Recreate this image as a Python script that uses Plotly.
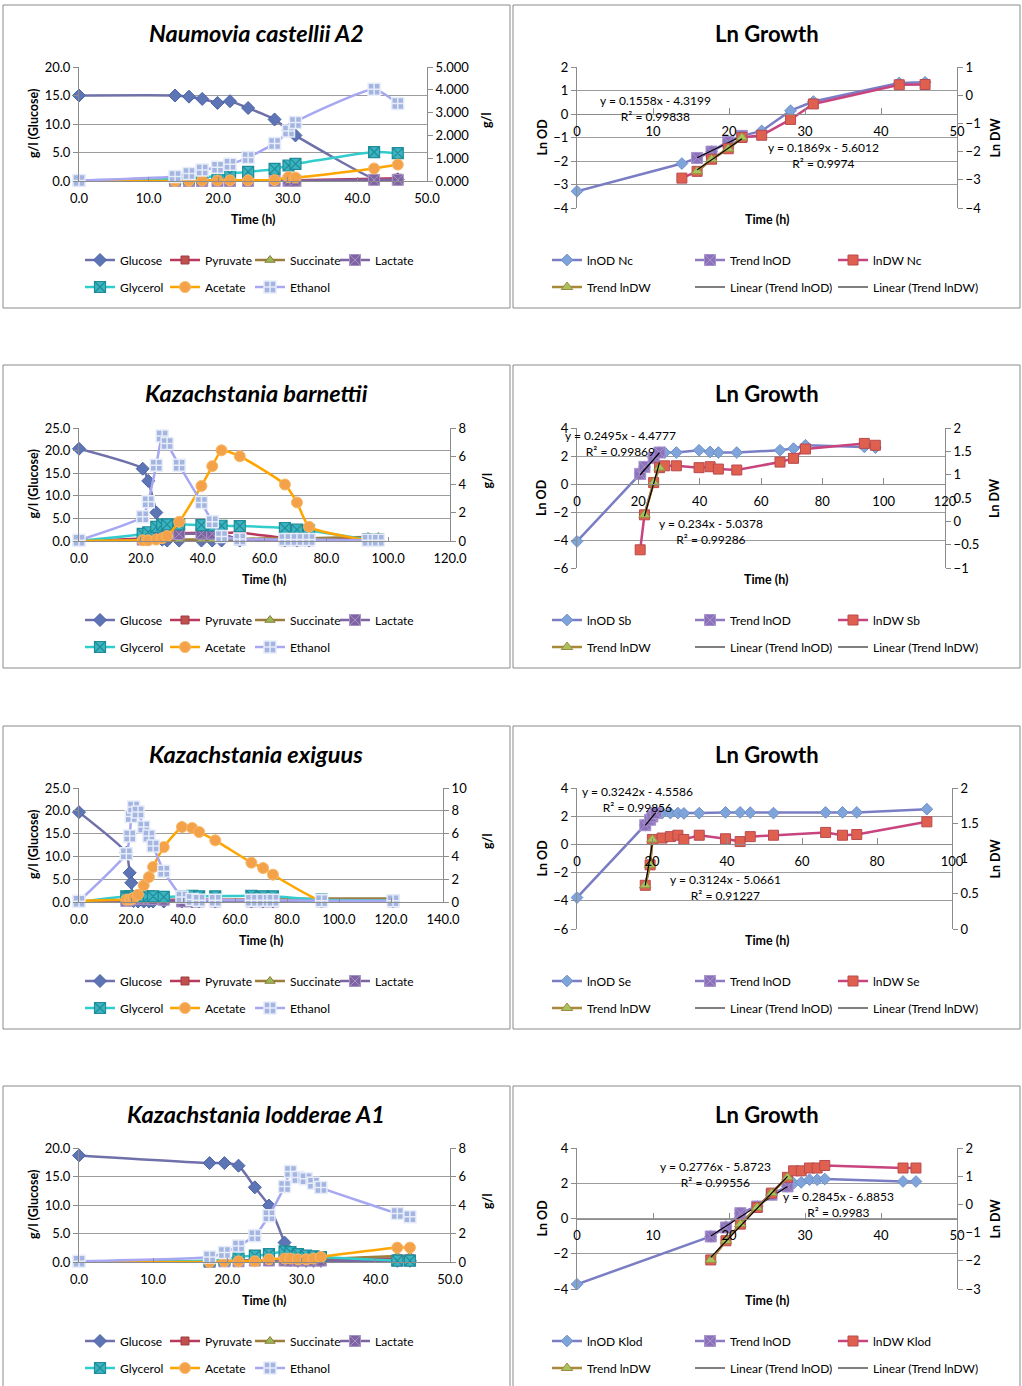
import plotly.graph_objects as go

# ------------------------------------------------------------------ data
# Naumovia castellii A2 (metabolites)
nc_time = [0.0, 13.8, 15.8, 17.7, 19.9, 21.7, 24.3, 28.1, 30.1, 31.1, 42.4, 45.8]
nc_glucose = [15.0, 15.0, 14.8, 14.4, 13.7, 14.0, 12.8, 10.8, 8.9, 8.0, 0.4, 0.3]
nc_pyruvate = [0.0, 0.01, 0.01, 0.01, 0.01, 0.01, 0.02, 0.02, 0.03, 0.03, 0.10, 0.12]
nc_succinate = [0.0, 0.0, 0.0, 0.0, 0.0, 0.0, 0.01, 0.01, 0.01, 0.01, 0.02, 0.02]
nc_lactate = [0.0, 0.0, 0.0, 0.0, 0.0, 0.0, 0.0, 0.01, 0.01, 0.01, 0.05, 0.05]
nc_glycerol = [0.0, 0.10, 0.12, 0.16, 0.22, 0.33, 0.40, 0.53, 0.68, 0.75, 1.27, 1.22]
nc_acetate = [0.0, 0.0, 0.01, 0.02, 0.02, 0.03, 0.03, 0.04, 0.17, 0.15, 0.55, 0.72]
nc_ethanol = [0.02, 0.20, 0.33, 0.48, 0.60, 0.74, 1.03, 1.65, 2.19, 2.57, 4.02, 3.40]
# Naumovia castellii A2 (ln growth)
nc_od_time = [0.0, 13.8, 15.8, 17.7, 19.9, 21.7, 24.3, 28.1, 31.1, 42.4, 45.8]
nc_ln_od = [-3.29, -2.11, -1.87, -1.60, -1.18, -0.93, -0.72, 0.14, 0.53, 1.32, 1.35]
nc_dw_time = [13.8, 15.8, 17.7, 19.9, 21.7, 24.3, 28.1, 31.1, 42.4, 45.8]
nc_ln_dw = [-2.94, -2.70, -2.27, -1.90, -1.50, -1.42, -0.86, -0.31, 0.37, 0.38]
nc_trend_od_time = [15.8, 17.7, 19.9, 21.7]
nc_trend_od = [-1.87, -1.60, -1.18, -0.93]
nc_trend_dw_time = [15.8, 17.7, 19.9, 21.7]
nc_trend_dw = [-2.70, -2.27, -1.90, -1.50]
nc_fit_od = [0.1558, -4.3199, 0.99838]
nc_fit_dw = [0.1869, -5.6012, 0.9974]

# Kazachstania barnettii (metabolites)
kb_time = [0.0, 20.6, 22.4, 25.0, 26.9, 28.5, 32.4, 39.6, 43.1, 46.1, 52.0, 66.6, 70.5, 74.4, 93.5, 96.8]
kb_glucose = [20.4, 16.0, 13.3, 6.3, 0.3, 0.1, 0.1, 0.1, 0.1, 0.1, 0.1, 0.1, 0.1, 0.1, 0.1, 0.1]
kb_pyruvate = [0.0, 0.2, 0.3, 0.45, 0.55, 0.55, 0.55, 0.58, 0.58, 0.58, 0.6, 0.2, 0.2, 0.2, 0.2, 0.2]
kb_succinate = [0.0, 0.05, 0.05, 0.1, 0.1, 0.1, 0.1, 0.1, 0.1, 0.1, 0.15, 0.2, 0.2, 0.2, 0.28, 0.28]
kb_lactate = [0.0, 0.1, 0.2, 0.35, 0.5, 0.5, 0.5, 0.52, 0.52, 0.5, 0.1, 0.05, 0.05, 0.05, 0.05, 0.05]
kb_glycerol = [0.0, 0.5, 0.62, 1.0, 1.15, 1.18, 1.18, 1.13, 1.1, 1.08, 1.06, 0.92, 0.8, 0.75, 0.12, 0.1]
kb_acetate = [0.0, 0.05, 0.05, 0.1, 0.2, 0.35, 1.36, 3.9, 5.3, 6.42, 6.0, 4.0, 2.73, 1.01, 0.05, 0.05]
kb_ethanol = [0.05, 1.72, 2.78, 5.36, 7.44, 6.9, 5.36, 2.73, 1.36, 0.31, 0.14, 0.1, 0.1, 0.1, 0.05, 0.05]
# Kazachstania barnettii (ln growth)
kb_od_time = [0.0, 20.6, 22.0, 25.0, 26.9, 28.6, 32.4, 39.8, 43.4, 46.1, 52.1, 66.2, 70.6, 74.5, 93.7, 97.3]
kb_ln_od = [-4.10, 0.72, 1.22, 1.90, 2.25, 2.25, 2.25, 2.41, 2.29, 2.25, 2.25, 2.41, 2.53, 2.77, 2.65, 2.60]
kb_dw_time = [20.6, 22.0, 25.0, 26.9, 28.6, 32.4, 39.8, 43.4, 46.1, 52.1, 66.2, 70.6, 74.5, 93.7, 97.3]
kb_ln_dw = [-0.61, 0.14, 0.83, 1.15, 1.19, 1.19, 1.15, 1.17, 1.12, 1.10, 1.27, 1.35, 1.55, 1.67, 1.63]
kb_trend_od_time = [20.6, 22.0, 25.0, 26.9]
kb_trend_od = [0.72, 1.22, 1.85, 2.25]
kb_trend_dw_time = [22.0, 25.0, 26.9]
kb_trend_dw = [0.14, 0.83, 1.15]
kb_fit_od = [0.2495, -4.4777, 0.99869]
kb_fit_dw = [0.234, -5.0378, 0.99286]

# Kazachstania exiguus (metabolites)
ke_time = [0.0, 18.2, 19.5, 20.1, 21.0, 22.7, 24.9, 26.9, 28.5, 32.6, 39.6, 43.5, 46.2, 52.4, 66.3, 70.8, 74.6, 93.3, 120.8]
ke_glucose = [19.7, 10.8, 6.4, 4.2, 0.2, 0.1, 0.1, 0.1, 0.1, 0.1, 0.1, 0.1, 0.1, 0.1, 0.1, 0.1, 0.1, 0.1, 0.1]
ke_pyruvate = [0.0, 0.1, 0.1, 0.15, 0.15, 0.15, 0.15, 0.2, 0.2, 0.2, 0.2, 0.2, 0.2, 0.2, 0.2, 0.2, 0.2, 0.2, 0.2]
ke_succinate = [0.0, 0.05, 0.05, 0.05, 0.05, 0.1, 0.1, 0.1, 0.1, 0.1, 0.1, 0.1, 0.15, 0.15, 0.2, 0.2, 0.2, 0.3, 0.3]
ke_lactate = [0.0, 0.1, 0.2, 0.3, 0.3, 0.3, 0.3, 0.3, 0.25, 0.2, 0.05, 0.05, 0.05, 0.05, 0.05, 0.05, 0.05, 0.05, 0.05]
ke_glycerol = [0.0, 0.5, 0.5, 0.5, 0.5, 0.5, 0.5, 0.5, 0.5, 0.45, 0.5, 0.55, 0.5, 0.5, 0.55, 0.5, 0.5, 0.2, 0.15]
ke_acetate = [0.1, 0.2, 0.22, 0.25, 0.35, 0.64, 1.46, 2.19, 3.07, 4.82, 6.58, 6.49, 6.14, 5.41, 3.45, 2.98, 2.4, 0.1, 0.1]
ke_ethanol = [0.06, 4.24, 5.79, 7.49, 8.33, 7.89, 6.58, 5.79, 4.91, 2.69, 0.44, 0.23, 0.15, 0.15, 0.15, 0.15, 0.15, 0.12, 0.1]
# Kazachstania exiguus (ln growth)
ke_od_time = [0.0, 18.2, 19.5, 20.1, 21.0, 22.7, 24.9, 26.9, 28.5, 32.6, 39.6, 43.5, 46.2, 52.4, 66.3, 70.8, 74.6, 93.3]
ke_ln_od = [-3.77, 1.36, 1.75, 1.98, 2.22, 2.22, 2.22, 2.22, 2.2, 2.22, 2.27, 2.27, 2.25, 2.22, 2.27, 2.27, 2.27, 2.5]
ke_dw_time = [18.2, 19.5, 20.1, 22.7, 24.9, 26.9, 28.5, 32.6, 39.6, 43.5, 46.2, 52.4, 66.3, 70.8, 74.6, 93.3]
ke_ln_dw = [0.62, 0.91, 1.27, 1.29, 1.31, 1.33, 1.27, 1.33, 1.28, 1.24, 1.31, 1.33, 1.37, 1.33, 1.34, 1.52]
ke_trend_od_time = [18.2, 19.5, 20.1, 21.0]
ke_trend_od = [1.36, 1.75, 1.98, 2.22]
ke_trend_dw_time = [18.2, 19.5, 20.1]
ke_trend_dw = [0.62, 0.91, 1.27]
ke_fit_od = [0.3242, -4.5586, 0.99856]
ke_fit_dw = [0.3124, -5.0661, 0.91227]

# Kazachstania lodderae A1 (metabolites)
kl_time = [0.0, 17.6, 19.6, 21.5, 23.7, 25.6, 27.7, 28.5, 29.5, 30.6, 31.6, 32.6, 42.9, 44.6]
kl_glucose = [18.7, 17.35, 17.35, 16.9, 13.1, 9.9, 3.4, 0.3, 0.2, 0.2, 0.2, 0.2, 0.2, 0.2]
kl_pyruvate = [0.0, 0.05, 0.05, 0.1, 0.1, 0.15, 0.2, 0.2, 0.2, 0.2, 0.2, 0.2, 0.25, 0.25]
kl_succinate = [0.0, 0.05, 0.05, 0.05, 0.1, 0.1, 0.15, 0.15, 0.2, 0.2, 0.2, 0.2, 0.42, 0.42]
kl_lactate = [0.0, 0.0, 0.05, 0.05, 0.1, 0.1, 0.1, 0.1, 0.1, 0.1, 0.1, 0.1, 0.1, 0.1]
kl_glycerol = [0.0, 0.1, 0.2, 0.35, 0.45, 0.55, 0.75, 0.7, 0.55, 0.45, 0.4, 0.35, 0.1, 0.1]
kl_acetate = [0.0, 0.0, 0.05, 0.05, 0.05, 0.19, 0.24, 0.24, 0.19, 0.19, 0.24, 0.35, 1.01, 1.01]
kl_ethanol = [0.05, 0.35, 0.66, 1.13, 1.84, 3.25, 5.29, 6.35, 5.93, 5.84, 5.53, 5.22, 3.41, 3.18]
# Kazachstania lodderae A1 (ln growth)
kl_od_time = [0.0, 17.6, 19.6, 21.5, 23.7, 25.6, 27.7, 28.5, 29.5, 30.6, 31.6, 32.6, 42.9, 44.6]
kl_ln_od = [-3.73, -1.02, -0.46, 0.30, 0.68, 1.35, 1.82, 2.0, 2.05, 2.2, 2.2, 2.24, 2.1, 2.1]
kl_dw_time = [17.6, 19.6, 21.5, 23.7, 25.6, 27.7, 28.5, 29.5, 30.6, 31.6, 32.6, 42.9, 44.6]
kl_ln_dw = [-1.97, -1.29, -0.70, -0.11, 0.40, 0.96, 1.19, 1.19, 1.29, 1.29, 1.38, 1.29, 1.29]
kl_trend_od_time = [17.6, 19.6, 21.5, 23.7, 25.6, 27.7]
kl_trend_od = [-1.02, -0.51, 0.30, 0.68, 1.35, 1.82]
kl_trend_dw_time = [17.6, 19.6, 21.5, 23.7, 25.6, 27.7]
kl_trend_dw = [-1.97, -1.29, -0.70, -0.11, 0.40, 0.96]
kl_fit_od = [0.2776, -5.8723, 0.99556]
kl_fit_dw = [0.2845, -6.8853, 0.9983]

# labels
met_names = ['Glucose', 'Pyruvate', 'Succinate', 'Lactate', 'Glycerol', 'Acetate', 'Ethanol']
species_titles = ['Naumovia castellii A2', 'Kazachstania barnettii', 'Kazachstania exiguus', 'Kazachstania lodderae A1']
strain_codes = ['Nc', 'Sb', 'Se', 'Klod']

# ------------------------------------------------------------------ styling
W, H = 1022, 1386
FONT = "Lato, 'Open Sans', sans-serif"
GRID = '#9C9C9C'
AXIS = '#8C8C8C'
ROW_OFF = [0, 360, 721, 1081]

MET_STYLE = [
    ('#7070AA', dict(symbol='diamond', color='#5D74B5', size=10, line=dict(color='#4B64A6', width=1))),
    ('#B8385E', dict(symbol='square', color='#C0504D', size=8, line=dict(color='#A03A40', width=1))),
    ('#9C7E3C', dict(symbol='triangle-up', color='#9BBB59', size=9, line=dict(color='#8C7A3C', width=1))),
    ('#7E64A0', dict(symbol='square-x', color='#7E64A0', size=11, line=dict(color='#A893C6', width=1))),
    ('#33CCCC', dict(symbol='square-x', color='#3CB4C0', size=11, line=dict(color='#1F8C99', width=1.2))),
    ('#FFA500', dict(symbol='circle', color='#F4A24A', size=11, line=dict(color='#F8B868', width=1))),
    ('#A7A7F2', dict(symbol='square-cross', color='#A3B5E0', size=12, line=dict(color='#E6ECF8', width=1.5))),
]
OD_STYLE = ('#7A7DC4', dict(symbol='diamond', color='#7FA4D9', size=9, line=dict(color='#6E90CC', width=1)))
TOD_STYLE = ('#8C7BC0', dict(symbol='square-x', color='#8B72BA', size=11, line=dict(color='#A894CC', width=1)))
DW_STYLE = ('#C8447E', dict(symbol='square', color='#E0604F', size=10, line=dict(color='#B84A50', width=1)))
TDW_STYLE = ('#A8893A', dict(symbol='triangle-up', color='#A6C35E', size=10, line=dict(color='#A08A40', width=1)))

met_panels = [
    dict(t=nc_time, vals=[nc_glucose, nc_pyruvate, nc_succinate, nc_lactate, nc_glycerol, nc_acetate, nc_ethanol],
         box=(79, 427, 67, 181), x=(0, 50, 10), y=(0, 20, 5), y2=(0, 5, 1, '.3f')),
    dict(t=kb_time, vals=[kb_glucose, kb_pyruvate, kb_succinate, kb_lactate, kb_glycerol, kb_acetate, kb_ethanol],
         box=(79, 450, 428, 541), x=(0, 120, 20), y=(0, 25, 5), y2=(0, 8, 2, 'd')),
    dict(t=ke_time, vals=[ke_glucose, ke_pyruvate, ke_succinate, ke_lactate, ke_glycerol, ke_acetate, ke_ethanol],
         box=(79, 443, 788, 902), x=(0, 140, 20), y=(0, 25, 5), y2=(0, 10, 2, 'd')),
    dict(t=kl_time, vals=[kl_glucose, kl_pyruvate, kl_succinate, kl_lactate, kl_glycerol, kl_acetate, kl_ethanol],
         box=(79, 450, 1148, 1262), x=(0, 50, 10), y=(0, 20, 5), y2=(0, 8, 2, 'd')),
]
growth_panels = [
    dict(od=(nc_od_time, nc_ln_od), dw=(nc_dw_time, nc_ln_dw), tod=(nc_trend_od_time, nc_trend_od),
         tdw=(nc_trend_dw_time, nc_trend_dw), fod=nc_fit_od, fdw=nc_fit_dw,
         box=(577, 957, 67, 208), x=(0, 50, 10), y=(-4, 2, 1), y2=(-4, 1, 1),
         eq_od=(655, 109), eq_dw=(823, 155), xlab=767),
    dict(od=(kb_od_time, kb_ln_od), dw=(kb_dw_time, kb_ln_dw), tod=(kb_trend_od_time, kb_trend_od),
         tdw=(kb_trend_dw_time, kb_trend_dw), fod=kb_fit_od, fdw=kb_fit_dw,
         box=(577, 945, 428, 568), x=(0, 120, 20), y=(-6, 4, 2), y2=(-1, 2, 0.5),
         eq_od=(620, 443), eq_dw=(711, 531), xlab=766),
    dict(od=(ke_od_time, ke_ln_od), dw=(ke_dw_time, ke_ln_dw), tod=(ke_trend_od_time, ke_trend_od),
         tdw=(ke_trend_dw_time, ke_trend_dw), fod=ke_fit_od, fdw=ke_fit_dw,
         box=(577, 952, 788, 929), x=(0, 100, 20), y=(-6, 4, 2), y2=(0, 2, 0.5),
         eq_od=(637, 799), eq_dw=(725, 888), xlab=767),
    dict(od=(kl_od_time, kl_ln_od), dw=(kl_dw_time, kl_ln_dw), tod=(kl_trend_od_time, kl_trend_od),
         tdw=(kl_trend_dw_time, kl_trend_dw), fod=kl_fit_od, fdw=kl_fit_dw,
         box=(577, 957, 1148, 1289), x=(0, 50, 10), y=(-4, 4, 2), y2=(-3, 2, 1),
         eq_od=(715, 1174), eq_dw=(838, 1204), xlab=767),
]


def fx(p):
    return p / W


def fy(p):
    return 1 - p / H


def axn(k, n):
    return f"{k}axis" if n == 1 else f"{k}axis{n}"


def rf(k, n):
    return k if n == 1 else f"{k}{n}"


def lgn(n):
    return "legend" if n == 1 else f"legend{n}"


fig = go.Figure()
layout = {}
annotations = []
shapes = []
TICKFONT = dict(family=FONT, size=13, color='#000000')


def legend_box(x_px, y_px, entry):
    return dict(orientation='h', x=fx(x_px), y=fy(y_px), xanchor='left', yanchor='middle',
                entrywidth=entry, entrywidthmode='pixels', itemwidth=30, borderwidth=0,
                bgcolor='rgba(0,0,0,0)', font=dict(family=FONT, size=12, color='#000000'),
                tracegroupgap=0, traceorder='normal')


def ann(text, x, y, size=12, bold=False, angle=0):
    annotations.append(dict(text=f"<b>{text}</b>" if bold else text, x=fx(x), y=fy(y), xref='paper',
                            yref='paper', showarrow=False, xanchor='center', yanchor='middle',
                            textangle=angle, font=dict(family=FONT, size=size, color='#000000')))


for row in range(4):
    off = ROW_OFF[row]
    # panel borders
    bottom = 308 + off if row < 3 else 1392
    for bx0, bx1 in ((3, 510), (513, 1020)):
        shapes.append(dict(type='rect', xref='paper', yref='paper', x0=fx(bx0), x1=fx(bx1),
                           y0=fy(bottom), y1=fy(5 + off), line=dict(color='#8A8A8A', width=1)))

    # ---------------- metabolite panel
    P = met_panels[row]
    n = 2 * row + 1
    xa, ya, yb = n, 2 * n - 1, 2 * n
    x0, x1, y0, y1 = P['box']
    layout[axn('x', xa)] = dict(domain=[fx(x0), fx(x1)], anchor=rf('y', ya), range=[P['x'][0], P['x'][1]],
                                tick0=0, dtick=P['x'][2], tickformat='.1f', showgrid=False, zeroline=False,
                                showline=True, linecolor=AXIS, linewidth=1, ticks='inside', ticklen=4,
                                tickcolor=AXIS, ticklabelstandoff=5, tickfont=TICKFONT, automargin=False,
                                fixedrange=True)
    layout[axn('y', ya)] = dict(domain=[fy(y1), fy(y0)], anchor=rf('x', xa), range=[P['y'][0], P['y'][1]],
                                tick0=0, dtick=P['y'][2], tickformat='.1f', showgrid=True, gridcolor=GRID,
                                gridwidth=1, zeroline=False, showline=True, linecolor=AXIS, ticks='outside',
                                ticklen=5, tickcolor=AXIS, tickfont=TICKFONT, automargin=False, fixedrange=True)
    layout[axn('y', yb)] = dict(anchor=rf('x', xa), overlaying=rf('y', ya), side='right',
                                range=[P['y2'][0], P['y2'][1]], tick0=0, dtick=P['y2'][2],
                                tickformat=P['y2'][3], showgrid=False, zeroline=False, showline=True,
                                linecolor=AXIS, ticks='outside', ticklen=5, tickcolor=AXIS,
                                tickfont=TICKFONT, automargin=False, fixedrange=True)
    l1, l2 = 2 * n - 1, 2 * n
    layout[lgn(l1)] = legend_box(80, 260 + off, 40)
    layout[lgn(l2)] = legend_box(80, 287 + off, 40)
    for i, name in enumerate(met_names):
        lc, mk = MET_STYLE[i]
        fig.add_trace(go.Scatter(x=P['t'], y=P['vals'][i], name=name, mode='lines+markers',
                                 line=dict(color=lc, width=2.5, shape='spline', smoothing=0.5),
                                 marker=mk, xaxis=rf('x', xa), yaxis=rf('y', ya if i == 0 else yb),
                                 legend=lgn(l1 if i < 4 else l2), legendrank=i + 1, cliponaxis=False))
    cx = (x0 + x1) / 2
    ann(f"<i>{species_titles[row]}</i>", 256, 33 + off, size=23.5, bold=True)
    ann("Time (h)", cx, 219 + off, size=12.5, bold=True)
    ann("g/l (Glucose)", 33, (y0 + y1) / 2, size=12.5, bold=True, angle=-90)
    ann("g/l", 487, (y0 + y1) / 2 - 4, size=12.5, bold=True, angle=-90)

    # ---------------- growth panel
    G = growth_panels[row]
    n = 2 * row + 2
    xa, ya, yb = n, 2 * n - 1, 2 * n
    x0, x1, y0, y1 = G['box']
    ymin, ymax = G['y'][0], G['y'][1]
    zero_px = y0 + (ymax - 0) / (ymax - ymin) * (y1 - y0)
    layout[axn('x', xa)] = dict(domain=[fx(x0), fx(x1)], anchor='free', position=fy(zero_px),
                                range=[G['x'][0], G['x'][1]], tick0=0, dtick=G['x'][2], showgrid=False,
                                zeroline=False, showline=True, linecolor=AXIS, linewidth=1, ticks='inside',
                                ticklen=6, tickcolor=AXIS, ticklabelstandoff=5, tickfont=TICKFONT,
                                automargin=False, fixedrange=True)
    layout[axn('y', ya)] = dict(domain=[fy(y1), fy(y0)], anchor=rf('x', xa), range=[ymin, ymax],
                                tick0=0, dtick=G['y'][2], showgrid=True, gridcolor=GRID, gridwidth=1,
                                zeroline=False, showline=True, linecolor=AXIS, ticks='outside', ticklen=5,
                                tickcolor=AXIS, tickfont=TICKFONT, automargin=False, fixedrange=True)
    layout[axn('y', yb)] = dict(anchor=rf('x', xa), overlaying=rf('y', ya), side='right',
                                range=[G['y2'][0], G['y2'][1]], tick0=0, dtick=G['y2'][2], showgrid=False,
                                zeroline=False, showline=True, linecolor=AXIS, ticks='outside', ticklen=5,
                                tickcolor=AXIS, tickfont=TICKFONT, automargin=False, fixedrange=True)
    l1, l2 = 2 * n - 1, 2 * n
    layout[lgn(l1)] = legend_box(547, 260 + off, 98)
    layout[lgn(l2)] = legend_box(547, 287 + off, 98)
    code = strain_codes[row]
    xr, yl, yr = rf('x', xa), rf('y', ya), rf('y', yb)
    fig.add_trace(go.Scatter(x=G['od'][0], y=G['od'][1], name=f"lnOD {code}", mode='lines+markers',
                             line=dict(color=OD_STYLE[0], width=2.5), marker=OD_STYLE[1], legendrank=1,
                             xaxis=xr, yaxis=yl, legend=lgn(l1), cliponaxis=False))
    fig.add_trace(go.Scatter(x=G['tod'][0], y=G['tod'][1], name="Trend lnOD", mode='lines+markers',
                             line=dict(color=TOD_STYLE[0], width=2.5), marker=TOD_STYLE[1], legendrank=2,
                             xaxis=xr, yaxis=yl, legend=lgn(l1), cliponaxis=False))
    fod = G['fod']
    tod_x = [G['tod'][0][0], G['tod'][0][-1]]
    fig.add_trace(go.Scatter(x=tod_x, y=[fod[0] * v + fod[1] for v in tod_x], name="Linear (Trend lnOD)",
                             mode='lines', line=dict(color='#000000', width=1.2), legendrank=5,
                             xaxis=xr, yaxis=yl, legend=lgn(l2)))
    fig.add_trace(go.Scatter(x=G['dw'][0], y=G['dw'][1], name=f"lnDW {code}", mode='lines+markers',
                             line=dict(color=DW_STYLE[0], width=2.5), marker=DW_STYLE[1], legendrank=3,
                             legendwidth=130, xaxis=xr, yaxis=yr, legend=lgn(l1), cliponaxis=False))
    fig.add_trace(go.Scatter(x=G['tdw'][0], y=G['tdw'][1], name="Trend lnDW", mode='lines+markers',
                             line=dict(color=TDW_STYLE[0], width=2.5), marker=TDW_STYLE[1], legendrank=4,
                             xaxis=xr, yaxis=yr, legend=lgn(l2), cliponaxis=False))
    fdw = G['fdw']
    tdw_x = [G['tdw'][0][0], G['tdw'][0][-1]]
    fig.add_trace(go.Scatter(x=tdw_x, y=[fdw[0] * v + fdw[1] for v in tdw_x], name="Linear (Trend lnDW)",
                             mode='lines', line=dict(color='#000000', width=1.2), legendrank=6,
                             legendwidth=130, xaxis=xr, yaxis=yr, legend=lgn(l2)))
    ann("Ln Growth", 767, 33 + off, size=22, bold=True)
    ann("Time (h)", G['xlab'], 219 + off, size=12.5, bold=True)
    ann("Ln OD", 542, (y0 + y1) / 2, size=12.5, bold=True, angle=-90)
    ann("Ln DW", 995, (y0 + y1) / 2, size=12.5, bold=True, angle=-90)
    for fit, pos in ((fod, G['eq_od']), (fdw, G['eq_dw'])):
        eq = f"y = {fit[0]}x - {abs(fit[1])}<br>R² = {fit[2]}"
        ann(eq, pos[0], pos[1])

layout.update(dict(width=W, height=H, margin=dict(l=0, r=0, t=0, b=0, autoexpand=False),
                   paper_bgcolor='white', plot_bgcolor='white', template='none', showlegend=True,
                   font=dict(family=FONT, size=12, color='#000000'),
                   annotations=annotations, shapes=shapes))
fig.update_layout(**layout)
fig.write_html("out.html", config={'displayModeBar': False},
               post_script="document.body.style.margin='0';document.body.style.overflow='hidden';")
